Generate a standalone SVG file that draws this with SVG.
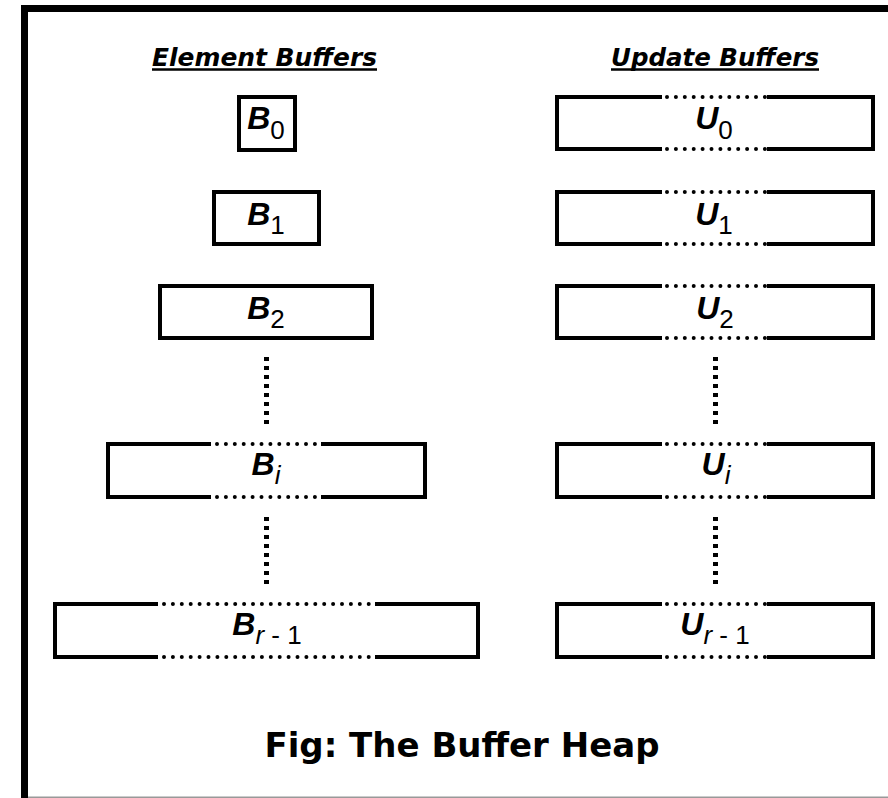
<svg xmlns="http://www.w3.org/2000/svg" width="888" height="798" viewBox="0 0 888 798">
<style>
.frame{fill:#000}
.box{fill:none;stroke:#000;stroke-width:4;stroke-linejoin:miter}
.dots{fill:none;stroke:#000;stroke-width:4;stroke-linecap:round;stroke-dasharray:0 8.9}
.vdots{fill:none;stroke:#000;stroke-width:5;stroke-dasharray:4 5}
.hdr{font-family:"DejaVu Sans",Verdana,sans-serif;font-weight:bold;font-style:oblique;font-size:24.5px;fill:#000}
.ul{stroke:#000;stroke-width:2.6}
.lbl{font-family:"Liberation Sans",Arial,sans-serif;font-weight:bold;font-style:italic;font-size:32px;fill:#000;text-anchor:middle}
.sub{font-weight:normal;font-style:normal;font-size:26px}
.subi{font-weight:normal;font-style:italic;font-size:26px}
.title{font-family:"DejaVu Sans",Verdana,sans-serif;font-weight:bold;font-size:34px;fill:#000;text-anchor:middle}
</style>
<rect width="888" height="798" fill="#fff"/>
<g id="frame">
<rect class="frame" x="21" y="5" width="867" height="7"/>
<rect class="frame" x="21" y="5" width="7" height="793"/>
<line x1="28" y1="797.3" x2="888" y2="797.3" stroke="#999" stroke-width="1.4"/>
</g>
<g id="headers">
<text class="hdr" x="152" y="66" textLength="225" lengthAdjust="spacingAndGlyphs">Element Buffers</text>
<line class="ul" x1="152" y1="69.5" x2="377" y2="69.5"/>
<text class="hdr" x="611" y="66" textLength="208" lengthAdjust="spacingAndGlyphs">Update Buffers</text>
<line class="ul" x1="611" y1="69.5" x2="819" y2="69.5"/>
</g>
<g id="connectors">
<line class="vdots" x1="266.5" y1="357" x2="266.5" y2="424"/>
<line class="vdots" x1="266.5" y1="517" x2="266.5" y2="584"/>
<line class="vdots" x1="715.5" y1="357" x2="715.5" y2="424"/>
<line class="vdots" x1="715.5" y1="517" x2="715.5" y2="584"/>
</g>
<g id="B0">
<rect class="box" x="239" y="97" width="56" height="53"/>
<text class="lbl" x="266" y="129">B<tspan class="sub" dy="10">0</tspan></text>
</g>
<g id="B1">
<rect class="box" x="214" y="192" width="105" height="52"/>
<text class="lbl" x="266" y="224.5">B<tspan class="sub" dy="9">1</tspan></text>
</g>
<g id="B2">
<rect class="box" x="160" y="286" width="212" height="52"/>
<text class="lbl" x="266" y="319">B<tspan class="sub" dy="9">2</tspan></text>
</g>
<g id="Bi">
<path class="box" d="M211 444H108V497H211M321 444H425V497H321"/>
<path class="dots" d="M217 444H316M217 497H316"/>
<text class="lbl" x="266" y="475">B<tspan class="subi" dy="9">i</tspan></text>
</g>
<g id="Br1">
<path class="box" d="M158 604H55V657H158M375 604H478V657H375"/>
<path class="dots" d="M164 604H369.5M164 657H369.5"/>
<text class="lbl" x="267" y="635">B<tspan class="subi" dy="9">r</tspan><tspan class="sub"> - 1</tspan></text>
</g>
<g id="U0">
<path class="box" d="M662 97H557V149H662M767 97H873V149H767"/>
<path class="dots" d="M667 97H765.5M667 149H765.5"/>
<text class="lbl" x="714" y="129">U<tspan class="sub" dy="10">0</tspan></text>
</g>
<g id="U1">
<path class="box" d="M662 192H557V244H662M767 192H873V244H767"/>
<path class="dots" d="M667 192H765.5M667 244H765.5"/>
<text class="lbl" x="714" y="224.5">U<tspan class="sub" dy="9">1</tspan></text>
</g>
<g id="U2">
<path class="box" d="M662 286H557V338H662M767 286H873V338H767"/>
<path class="dots" d="M667 286H765.5M667 338H765.5"/>
<text class="lbl" x="715" y="319">U<tspan class="sub" dy="9">2</tspan></text>
</g>
<g id="Ui">
<path class="box" d="M662 444H557V497H662M767 444H873V497H767"/>
<path class="dots" d="M667 444H765.5M667 497H765.5"/>
<text class="lbl" x="716" y="475">U<tspan class="subi" dy="9">i</tspan></text>
</g>
<g id="Ur1">
<path class="box" d="M662 604H557V657H662M767 604H873V657H767"/>
<path class="dots" d="M667 604H765.5M667 657H765.5"/>
<text class="lbl" x="715" y="635">U<tspan class="subi" dy="9">r</tspan><tspan class="sub"> - 1</tspan></text>
</g>
<g id="caption">
<text class="title" x="462" y="757">Fig: The Buffer Heap</text>
</g>
</svg>
